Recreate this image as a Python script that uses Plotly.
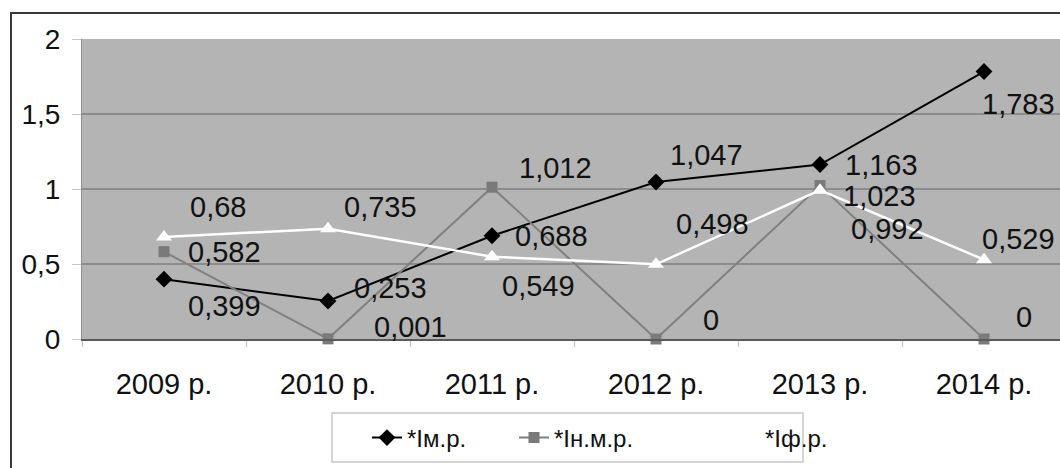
import plotly.graph_objects as go

categories = ["2009 р.", "2010 р.", "2011 р.", "2012 р.", "2013 р.", "2014 р."]
i_mr = [0.399, 0.253, 0.688, 1.047, 1.163, 1.783]
i_nmr = [0.582, 0.001, 1.012, 0, 1.023, 0]
i_fr = [0.68, 0.735, 0.549, 0.498, 0.992, 0.529]
series_names = ["*Iм.р.", "*Iн.м.р.", "*Iф.р."]
y_ticks = [0, 0.5, 1, 1.5, 2]

# label offsets (pixels) relative to the point: (dx to left edge, dy to centre)
off_mr = [(22, -27), (24, 13), (21, 0), (12, 27), (23, 0), (-4, -32)]
off_nmr = [(22, 0), (44, 12), (25, 19), (45, 19), (21, -10), (30, 22)]
off_fr = [(24, 30), (14, 22), (8, -29), (18, 40), (29, -39), (-4, 21)]

FONT = "Liberation Sans, Arial, sans-serif"

def fmt(v):
    return f"{v:g}".replace(".", ",")

fig = go.Figure()
fig.add_trace(go.Scatter(
    x=categories, y=i_mr, name=series_names[0], mode="lines+markers",
    line=dict(color="#000000", width=2),
    marker=dict(symbol="diamond", size=13, color="#000000"),
    cliponaxis=False, legend="legend"))
fig.add_trace(go.Scatter(
    x=categories, y=i_nmr, name=series_names[1], mode="lines+markers",
    line=dict(color="#808080", width=2),
    marker=dict(symbol="square", size=11, color="#7a7a7a"),
    cliponaxis=False, legend="legend2"))
fig.add_trace(go.Scatter(
    x=categories, y=i_fr, name=series_names[2], mode="lines+markers",
    line=dict(color="#ffffff", width=2.5),
    marker=dict(symbol="triangle-up", size=14, color="#ffffff"),
    cliponaxis=False, legend="legend3"))

annotations = []
for vals, offs in ((i_mr, off_mr), (i_nmr, off_nmr), (i_fr, off_fr)):
    for c, v, (dx, dy) in zip(categories, vals, offs):
        annotations.append(dict(
            x=c, y=v, xref="x", yref="y", text=fmt(v), showarrow=False,
            xanchor="left", yanchor="middle", xshift=dx, yshift=dy,
            font=dict(family=FONT, size=29, color="#111111")))

W, H = 1060, 468
L, T, B = 82, 39, 129
plot_w = W - L
unit = 164.0
x_range = [-0.5, -0.5 + plot_w / unit]

shapes = [
    # outer chart border
    dict(type="rect", xref="paper", yref="paper",
         x0=(11 - L) / plot_w, x1=1.2, y0=-0.6, y1=(H - B - 13) / (H - T - B),
         line=dict(color="#3a3a3a", width=2), fillcolor="rgba(0,0,0,0)", layer="above"),
    # legend box
    dict(type="rect", xref="paper", yref="paper",
         x0=(332 - L) / plot_w, x1=(803 - L) / plot_w,
         y0=(H - B - 462) / (H - T - B), y1=(H - B - 413) / (H - T - B),
         line=dict(color="#c8c8c8", width=1.5), fillcolor="rgba(0,0,0,0)", layer="above"),
]

leg_common = dict(orientation="h", bgcolor="rgba(0,0,0,0)", borderwidth=0,
                  font=dict(family=FONT, size=24, color="#111111"),
                  xref="container", yref="container", xanchor="left", yanchor="middle")
ly = 1 - 438 / H

fig.update_layout(
    width=W, height=H,
    margin=dict(l=L, r=0, t=T, b=B),
    paper_bgcolor="#ffffff",
    plot_bgcolor="#b4b4b4",
    separators=", ",
    showlegend=True,
    legend=dict(x=367 / W, y=ly, **leg_common),
    legend2=dict(x=514 / W, y=ly, **leg_common),
    legend3=dict(x=725 / W, y=ly, **leg_common),
    xaxis=dict(
        type="category", range=x_range, showgrid=False,
        showline=True, linecolor="#5a5a5a", linewidth=2,
        ticks="outside", tickson="boundaries", ticklen=6, tickcolor="#c0c0c0",
        ticklabelstandoff=18,
        tickfont=dict(family=FONT, size=29, color="#111111"),
        zeroline=False),
    yaxis=dict(
        range=[0, 2], tickvals=y_ticks, showgrid=True, gridcolor="#8c8c8c", gridwidth=1.5,
        showline=True, linecolor="#8e8e8e", linewidth=1,
        ticks="outside", ticklen=9, tickcolor="#c8c8c8",
        ticklabelstandoff=6,
        tickfont=dict(family=FONT, size=28, color="#111111"),
        zeroline=False),
    annotations=annotations,
    shapes=shapes,
)

fig.write_html("out.html")
